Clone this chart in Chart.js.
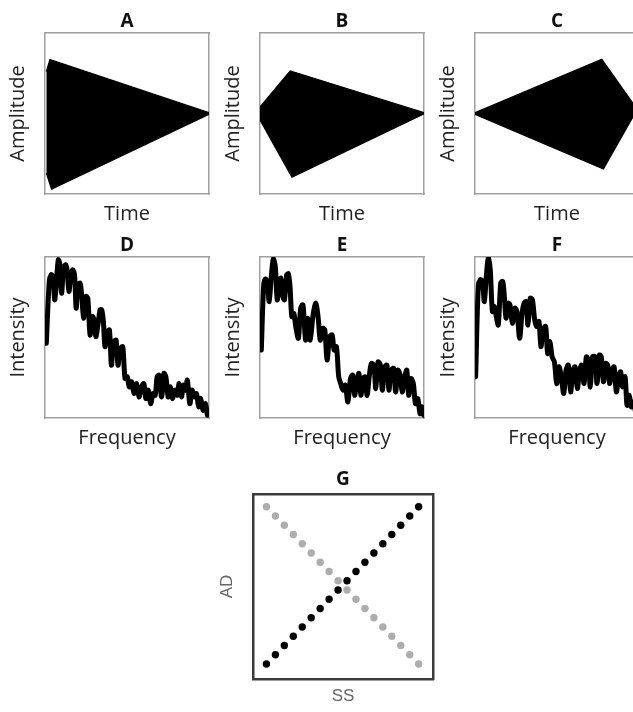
<!DOCTYPE html>
<html>
<head>
<meta charset="utf-8">
<script src="https://cdn.jsdelivr.net/npm/chart.js@4.4.1/dist/chart.umd.min.js"></script>
<style>
  html, body { margin: 0; padding: 0; background: #fff; overflow: hidden; width: 633px; height: 712px; }
  .panel { position: absolute; }
</style>
</head>
<body>
<div class="panel" style="left:0px;top:0px;width:254px;height:230px"><canvas id="chartA"></canvas></div>
<div class="panel" style="left:215px;top:0px;width:254px;height:230px"><canvas id="chartB"></canvas></div>
<div class="panel" style="left:430px;top:0px;width:254px;height:230px"><canvas id="chartC"></canvas></div>
<div class="panel" style="left:0px;top:224px;width:254px;height:230px"><canvas id="chartD"></canvas></div>
<div class="panel" style="left:215px;top:224px;width:254px;height:230px"><canvas id="chartE"></canvas></div>
<div class="panel" style="left:430px;top:224px;width:254px;height:230px"><canvas id="chartF"></canvas></div>
<div class="panel" style="left:208px;top:460px;width:270px;height:252px"><canvas id="chartG"></canvas></div>
<script>
// envelope corners of the tones, time 0..1, amplitude -1..1
const timeUpperA = [0.008, 0.03, 1];
const ampUpperA = [0.52, 0.67, 0.01];
const timeLowerA = [0.008, 0.04, 1];
const ampLowerA = [-0.74, -0.94, -0.01];

const timeUpperB = [0, 0.184, 1];
const ampUpperB = [0.08, 0.53, 0.01];
const timeLowerB = [0, 0.195, 1];
const ampLowerB = [-0.08, -0.79, -0.005];

const timeUpperC = [0, 0.773, 1];
const ampUpperC = [0.01, 0.675, 0.02];
const timeLowerC = [0, 0.783, 0.975, 1];
const ampLowerC = [-0.01, -0.69, 0, 0.02];

// spectra, frequency 0..100, intensity 0..100
const freqD = [0.8,2.6,3.8,4.9,5.9,6.9,8.1,8.9,10.1,11.3,12.6,13.4,14.6,15.8,16.8,18.0,19.0,20.0,21.3,22.3,23.5,24.9,26.1,27.5,28.9,30.0,31.0,32.4,33.6,34.6,35.6,36.6,38.1,39.3,40.5,41.7,43.3,44.5,45.7,47.4,48.8,50.2,51.4,52.8,54.3,55.9,57.3,58.9,60.3,61.5,63.0,64.4,66.0,67.2,68.4,69.6,71.1,72.5,73.7,75.1,76.5,77.7,79.1,80.6,81.8,83.2,84.4,85.6,86.8,88.3,89.7,90.9,92.3,93.7,94.9,96.4,97.8,99.0];
const intD = [46.4,84.8,89.0,87.9,73.4,83.8,98.3,96.3,77.5,93.1,95.2,92.1,78.6,89.0,92.1,89.0,68.2,81.7,83.8,77.5,62.0,75.5,74.4,51.6,63.0,60.9,50.5,58.8,67.2,67.2,59.9,44.3,53.6,54.7,32.8,46.4,48.4,32.8,42.2,44.3,24.5,25.6,19.3,22.5,15.2,21.4,13.1,19.3,21.4,12.1,17.3,8.9,15.2,14.1,25.6,26.6,13.1,27.7,25.6,13.1,19.3,12.1,17.3,14.1,21.4,13.1,20.4,17.3,23.5,8.9,17.3,13.1,15.2,6.9,12.1,4.8,8.9,1.7];

const freqE = [0.8,2.2,3.2,4.4,5.6,6.9,8.1,9.3,10.5,11.7,12.7,13.9,14.9,16.3,17.3,18.3,19.4,20.6,21.8,23.4,24.8,26.2,27.8,29.2,30.6,32.5,34.1,35.5,36.7,38.1,39.5,40.9,42.5,44.0,45.2,46.6,48.0,49.2,50.6,52.0,53.6,55.2,56.5,57.7,59.1,60.3,61.5,62.9,64.1,65.3,66.7,67.9,69.4,70.6,72.0,73.4,74.6,76.0,77.4,78.6,80.0,81.5,82.7,84.1,85.5,86.7,88.1,89.5,90.7,92.1,93.5,94.8,96.2,97.6,98.8,99.8];
const intE = [42.2,81.7,86.3,84.8,72.3,87.9,98.8,94.2,73.4,84.8,86.9,75.5,73.4,89.0,89.6,81.7,63.0,65.1,56.8,49.5,68.2,70.3,48.4,62.0,48.4,65.1,71.3,62.0,48.4,55.7,54.7,36.0,50.5,51.6,42.2,44.3,25.6,21.4,17.3,20.4,10.0,24.5,26.6,14.1,23.5,27.7,14.1,24.5,25.6,14.1,26.6,33.9,32.8,18.3,34.9,32.8,17.3,31.8,32.8,17.3,29.7,30.8,16.2,29.7,26.6,16.2,24.5,29.7,14.1,24.5,21.4,8.9,12.1,2.7,6.9,1.7];

const freqF = [0.4,2.0,3.3,4.5,5.7,6.9,8.1,9.3,10.6,11.8,13.0,14.2,15.7,16.9,17.9,18.9,20.1,21.3,22.8,24.2,25.6,27.2,28.7,29.9,31.1,32.3,33.7,35.0,36.4,37.6,39.0,40.2,41.7,43.1,44.3,45.7,47.0,48.4,49.8,51.2,52.6,54.1,55.5,56.9,58.3,59.8,61.0,62.4,63.8,65.0,66.5,67.9,69.1,70.3,71.7,73.2,74.4,75.8,77.0,78.3,79.7,80.9,82.1,83.5,84.8,86.2,87.6,88.8,90.0,91.5,92.7,94.1,95.3,96.7,98.2,99.6];
const intF = [25.6,81.7,85.9,84.8,72.3,87.9,99.4,92.1,66.1,69.2,63.0,57.8,83.8,84.8,75.5,62.0,71.3,70.3,58.8,68.2,66.1,49.5,65.1,71.3,72.3,57.8,74.4,73.4,60.9,56.8,59.9,44.3,55.7,56.8,40.1,47.4,38.0,34.9,21.4,31.8,25.6,15.2,29.7,32.8,16.2,29.7,31.8,18.3,29.7,32.8,21.4,38.0,36.0,19.3,38.0,38.0,21.4,39.1,38.0,22.5,33.9,32.8,21.4,29.7,31.8,16.2,25.6,28.7,19.3,25.6,7.9,14.1,6.9,10.0,2.7,5.8];

// G: AD against SS
const ssSteps = [1,2,3,4,5,6,7,8,9,10,11,12,13,14,15,16,17,18];
const adRising = [1,2,3,4,5,6,7,8,9,10,11,12,13,14,15,16,17,18];
const adFalling = [18,17,16,15,14,13,12,11,10,9,8,7,6,5,4,3,2,1];

Chart.defaults.font.family = "'Open Sans', sans-serif";
Chart.defaults.color = '#222';

const pts = (xs, ys) => xs.map((x, i) => ({x: x, y: ys[i]}));

const frameAxis = (position, color, width) => ({
    type: 'linear',
    position: position,
    display: true,
    grid: {display: false, drawTicks: false},
    ticks: {display: false},
    border: {display: true, color: color, width: width}
});

// right-hand frame axis also reserves the margin so the title sits over the box
const rightFrame = (color, width, margin) => {
    const a = frameAxis('right', color, width);
    a.afterFit = (scale) => { scale.width = margin; };
    return a;
};

const panelOptions = (letter, xLabel, yLabel, xMin, xMax, yMin, yMax) => {
    const edge = '#a0a0a0';
    const x = frameAxis('bottom', edge, 1.5);
    x.min = xMin; x.max = xMax;
    x.title = {display: true, text: xLabel, font: {size: 20, lineHeight: 1}, padding: {top: 10, bottom: 6}};
    const y = frameAxis('left', edge, 1.5);
    y.min = yMin; y.max = yMax;
    y.title = {display: true, text: yLabel, font: {size: 20, lineHeight: 1}, padding: {top: 8.5, bottom: 16.5}};
    return {
        responsive: true,
        maintainAspectRatio: false,
        animation: false,
        plugins: {
            legend: {display: false},
            tooltip: {enabled: false},
            title: {display: true, text: letter, font: {size: 19, weight: 'bold', lineHeight: 1}, color: '#111', padding: {top: 12, bottom: 2}}
        },
        scales: {x: x, y: y, x2: frameAxis('top', edge, 1.5), y2: rightFrame(edge, 1.5, 45)}
    };
};

const envelopeChart = (id, letter, tu, au, tl, al) => {
    new Chart(document.getElementById(id), {
        type: 'line',
        data: {
            datasets: [
                {data: pts(tu, au), borderColor: '#000', backgroundColor: '#000', borderWidth: 1.2, fill: '+1', pointRadius: 0, tension: 0},
                {data: pts(tl, al), borderColor: '#000', backgroundColor: '#000', borderWidth: 1.2, fill: false, pointRadius: 0, tension: 0}
            ]
        },
        options: panelOptions(letter, 'Time', 'Amplitude', 0, 1, -1, 1)
    });
};

const spectrumChart = (id, letter, freq, intensity) => {
    new Chart(document.getElementById(id), {
        type: 'line',
        data: {
            datasets: [{
                data: pts(freq, intensity),
                borderColor: '#000',
                borderWidth: 5,
                borderJoinStyle: 'round',
                borderCapStyle: 'round',
                pointRadius: 0,
                tension: 0.3,
                fill: false
            }]
        },
        options: panelOptions(letter, 'Frequency', 'Intensity', 0, 100, 0, 100)
    });
};

envelopeChart('chartA', 'A', timeUpperA, ampUpperA, timeLowerA, ampLowerA);
envelopeChart('chartB', 'B', timeUpperB, ampUpperB, timeLowerB, ampLowerB);
envelopeChart('chartC', 'C', timeUpperC, ampUpperC, timeLowerC, ampLowerC);
spectrumChart('chartD', 'D', freqD, intD);
spectrumChart('chartE', 'E', freqE, intE);
spectrumChart('chartF', 'F', freqF, intF);

// G
const gFrame = '#3a3a3a';
const gx = frameAxis('bottom', gFrame, 2.5);
gx.min = -0.5; gx.max = 19.6;
gx.title = {display: true, text: 'SS', color: '#666', font: {family: "'Liberation Sans', Arial, sans-serif", size: 17, lineHeight: 1}, padding: {top: 9, bottom: 7}};
const gy = frameAxis('left', gFrame, 2.5);
gy.min = -0.63; gy.max = 19.38;
gy.title = {display: true, text: 'AD', color: '#666', font: {family: "'Liberation Sans', Arial, sans-serif", size: 17, lineHeight: 1}, padding: {top: 10.5, bottom: 17.5}};

new Chart(document.getElementById('chartG'), {
    type: 'scatter',
    data: {
        datasets: [
            {data: pts(ssSteps, adRising), backgroundColor: '#000', borderWidth: 0, pointRadius: 3.7},
            {data: pts(ssSteps, adFalling), backgroundColor: '#adadad', borderWidth: 0, pointRadius: 3.7}
        ]
    },
    options: {
        responsive: true,
        maintainAspectRatio: false,
        animation: false,
        plugins: {
            legend: {display: false},
            tooltip: {enabled: false},
            title: {display: true, text: 'G', font: {size: 19, weight: 'bold', lineHeight: 1}, color: '#111', padding: {top: 10, bottom: 5}}
        },
        scales: {x: gx, y: gy, x2: frameAxis('top', gFrame, 2.5), y2: rightFrame(gFrame, 2.5, 45)}
    }
});
</script>
</body>
</html>
